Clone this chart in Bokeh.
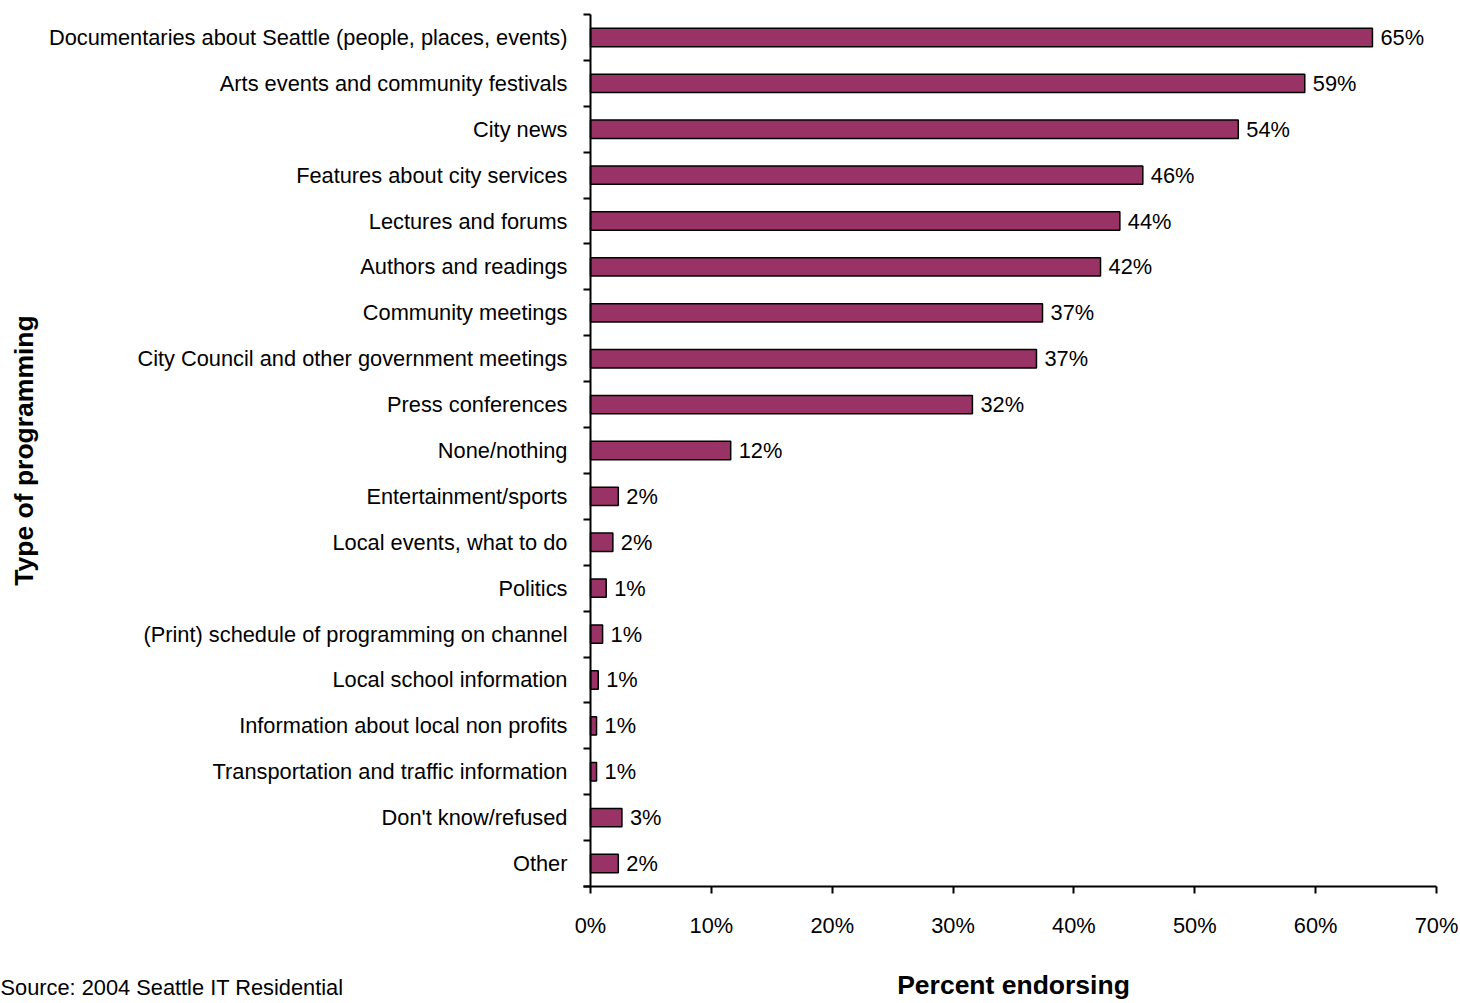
from bokeh.plotting import figure
from bokeh.models import (Range1d, FixedTicker, PrintfTickFormatter, Label,
                          LinearAxis, ColumnDataSource)
from bokeh.core.properties import value
from bokeh.embed import file_html
from bokeh.resources import INLINE
import math

categories = [
    "Documentaries about Seattle (people, places, events)",
    "Arts events and community festivals",
    "City news",
    "Features about city services",
    "Lectures and forums",
    "Authors and readings",
    "Community meetings",
    "City Council and other government meetings",
    "Press conferences",
    "None/nothing",
    "Entertainment/sports",
    "Local events, what to do",
    "Politics",
    "(Print) schedule of programming on channel",
    "Local school information",
    "Information about local non profits",
    "Transportation and traffic information",
    "Don't know/refused",
    "Other",
]
values = [64.7, 59.1, 53.6, 45.7, 43.8, 42.2, 37.4, 36.9, 31.6, 11.6,
          2.3, 1.85, 1.3, 1.0, 0.64, 0.5, 0.5, 2.6, 2.3]
shown = [65, 59, 54, 46, 44, 42, 37, 37, 32, 12, 2, 2, 1, 1, 1, 1, 1, 3, 2]
x_ticks = [0, 10, 20, 30, 40, 50, 60, 70]

FONT = "Liberation Sans"
FS = "21.8px"
TITLE_FS = "26.5px"

W, H = 1460, 1003
n = len(categories)
ypos = [n - 1 - i for i in range(n)]
bounds = [b - 0.5 for b in range(n + 1)]
src = ColumnDataSource(dict(y=ypos, v=values, lab=[f"{s}%" for s in shown]))

# plot area in page pixels: x 0%..70% -> 590..1436, rows span y 14..886
px_per_pct = (1436 - 590) / 70.0
px_per_row = (886 - 14) / n
x0 = -590 / px_per_pct
x1 = 70 + (W - 1436) / px_per_pct
y_top = n - 0.5 + 14 / px_per_row
y_bot = -0.5 - (H - 886) / px_per_row

p = figure(width=W, height=H, output_backend="svg", toolbar_location=None,
           x_range=Range1d(x0, x1), y_range=Range1d(y_bot, y_top),
           x_axis_location=None, y_axis_location=None,
           min_border=0, min_border_left=0, min_border_right=0,
           min_border_top=0, min_border_bottom=0)
p.outline_line_color = None
p.grid.visible = False
p.background_fill_color = "white"
p.border_fill_color = "white"

p.hbar(y="y", left=0, right="v", height=0.4, source=src,
       fill_color="#993366", line_color="black", line_width=1.5)
p.text(x="v", y="y", text="lab", source=src, x_offset=8,
       text_baseline="middle", text_align="left",
       text_font=value(FONT), text_font_size=FS, text_color="black")

# x axis drawn at the bottom of the rows
xa = LinearAxis(fixed_location=-0.5, bounds=(-0.62, 70),
                ticker=FixedTicker(ticks=x_ticks),
                formatter=PrintfTickFormatter(format="%d%%"))
xa.axis_line_width = 2
xa.axis_line_color = "black"
xa.major_tick_line_width = 2
xa.major_tick_out = 7
xa.major_tick_in = 0
xa.minor_tick_line_color = None
xa.major_label_text_font = FONT
xa.major_label_text_font_size = FS
xa.major_label_text_color = "black"
xa.major_label_standoff = 19
p.add_layout(xa, "below")

# y axis line with ticks on the category boundaries
yt = LinearAxis(fixed_location=0, bounds=(-0.5, n - 0.5),
                ticker=FixedTicker(ticks=bounds))
yt.major_label_overrides = {b: "" for b in bounds}
yt.axis_line_width = 2
yt.axis_line_color = "black"
yt.major_tick_line_width = 2
yt.major_tick_out = 7
yt.major_tick_in = 0
yt.minor_tick_line_color = None
yt.major_label_text_font_size = "1px"
p.add_layout(yt, "left")

# category labels
ya = LinearAxis(fixed_location=0, ticker=FixedTicker(ticks=ypos))
ya.major_label_overrides = {y: c for y, c in zip(ypos, categories)}
ya.axis_line_color = None
ya.major_tick_line_color = None
ya.minor_tick_line_color = None
ya.major_tick_out = 0
ya.major_tick_in = 0
ya.major_label_standoff = 23
ya.major_label_text_font = FONT
ya.major_label_text_font_size = FS
ya.major_label_text_color = "black"
p.add_layout(ya, "left")

p.add_layout(Label(x=23, y=(n - 1) / 2, x_units="screen", y_units="data",
                   text="Type of programming", angle=math.pi / 2,
                   text_align="center", text_baseline="middle",
                   text_font=FONT, text_font_style="bold", text_font_size=TITLE_FS,
                   text_color="black"))
p.add_layout(Label(x=35, y=-0.5 - 98 / px_per_row, x_units="data", y_units="data",
                   text="Percent endorsing",
                   text_align="center", text_baseline="middle",
                   text_font=FONT, text_font_style="bold", text_font_size=TITLE_FS,
                   text_color="black"))
p.add_layout(Label(x=0, y=-0.5 - 101 / px_per_row, x_units="screen", y_units="data",
                   text="Source: 2004 Seattle IT Residential",
                   text_align="left", text_baseline="middle",
                   text_font=FONT, text_font_size=FS, text_color="black"))

open("out.html", "w").write(file_html(p, INLINE))
